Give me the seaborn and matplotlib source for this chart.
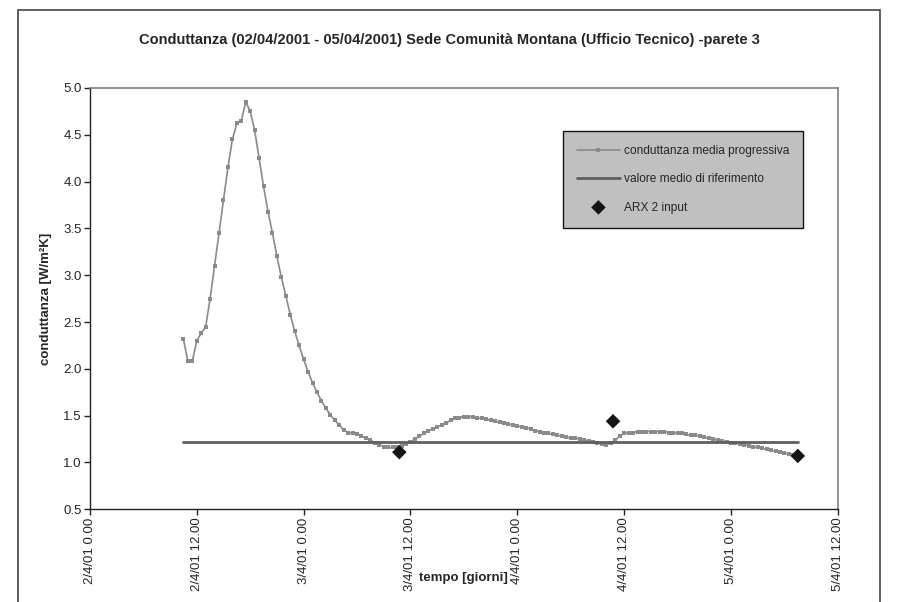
import numpy as np
import pandas as pd
import matplotlib
matplotlib.use("Agg")
import matplotlib.pyplot as plt
import matplotlib.dates as mdates
from matplotlib.ticker import FuncFormatter, MultipleLocator
from matplotlib.patches import Rectangle
import seaborn as sns

## data

start_time = "2001-04-02 10:30"
conduttanza = [2.32, 2.08, 2.08, 2.30, 2.38, 2.45, 2.75, 3.10, 3.45, 3.80,
               4.15, 4.45, 4.62, 4.65, 4.85, 4.75, 4.55, 4.25, 3.95, 3.68,
               3.45, 3.20, 2.98, 2.78, 2.58, 2.40, 2.25, 2.10, 1.97, 1.85,
               1.75, 1.66, 1.58, 1.51, 1.45, 1.40, 1.35, 1.32, 1.31, 1.30,
               1.28, 1.26, 1.24, 1.21, 1.19, 1.17, 1.16, 1.16, 1.17, 1.18,
               1.20, 1.22, 1.25, 1.28, 1.31, 1.34, 1.36, 1.38, 1.40, 1.42,
               1.45, 1.47, 1.48, 1.49, 1.49, 1.49, 1.48, 1.47, 1.46, 1.45,
               1.44, 1.43, 1.42, 1.41, 1.40, 1.39, 1.38, 1.37, 1.36, 1.34,
               1.33, 1.32, 1.31, 1.30, 1.29, 1.28, 1.27, 1.26, 1.26, 1.25,
               1.24, 1.23, 1.22, 1.21, 1.20, 1.19, 1.21, 1.24, 1.28, 1.31,
               1.32, 1.32, 1.33, 1.33, 1.33, 1.33, 1.33, 1.33, 1.33, 1.32,
               1.32, 1.31, 1.31, 1.30, 1.29, 1.29, 1.28, 1.27, 1.26, 1.25,
               1.24, 1.23, 1.22, 1.21, 1.21, 1.20, 1.19, 1.18, 1.17, 1.16,
               1.15, 1.14, 1.13, 1.12, 1.11, 1.10, 1.09, 1.08, 1.07]
valore_medio = 1.22
arx_times = ["2001-04-03 10:45", "2001-04-04 10:45", "2001-04-05 07:30"]
arx_values = [1.11, 1.44, 1.07]

xlim = ["2001-04-02 00:00", "2001-04-05 12:00"]

times = pd.date_range(start_time, periods=len(conduttanza), freq="30min")
df = pd.DataFrame({"tempo": times, "conduttanza": conduttanza})
ref = pd.DataFrame({"tempo": [times[0], times[-1]], "v": [valore_medio] * 2})
arx = pd.DataFrame({"tempo": pd.to_datetime(arx_times), "v": arx_values})

## plot

sns.set_style("white")
plt.rcParams["font.family"] = ["Liberation Sans", "DejaVu Sans"]

fig = plt.figure(figsize=(8.99, 6.02), dpi=100)
ax = fig.add_axes([0.100, 0.154, 0.832, 0.700])

sns.lineplot(data=df, x="tempo", y="conduttanza", ax=ax, color="#8a8a8a",
             linewidth=1.2, marker="s", markersize=2.5, markeredgewidth=0,
             label="conduttanza media progressiva")
sns.lineplot(data=ref, x="tempo", y="v", ax=ax, color="#5f5f5f",
             linewidth=2.0, label="valore medio di riferimento")
sns.scatterplot(data=arx, x="tempo", y="v", ax=ax, color="#151515",
                marker="D", s=55, edgecolor="none", label="ARX 2 input",
                zorder=5)

ax.set_xlim(pd.to_datetime(xlim[0]), pd.to_datetime(xlim[1]))
ax.set_ylim(0.5, 5.0)
ax.yaxis.set_major_locator(MultipleLocator(0.5))
ax.yaxis.set_major_formatter(FuncFormatter(lambda v, p: f"{v:.1f}"))
ax.xaxis.set_major_locator(mdates.HourLocator(byhour=[0, 12]))


def fmt_date(x, pos):
    d = mdates.num2date(x)
    return f"{d.day}/{d.month}/{d.strftime('%y')} {d.hour}.{d.minute:02d}"


ax.xaxis.set_major_formatter(FuncFormatter(fmt_date))
plt.setp(ax.get_xticklabels(), rotation=90, fontsize=9.5)
plt.setp(ax.get_yticklabels(), fontsize=9.5)
ax.tick_params(axis="both", direction="out", length=4, width=1,
               bottom=True, left=True, color="#222222", pad=2)

for s in ["left", "bottom"]:
    ax.spines[s].set_color("#222222")
    ax.spines[s].set_linewidth(1.0)
for s in ["top", "right"]:
    ax.spines[s].set_color("#808080")
    ax.spines[s].set_linewidth(1.2)

ax.set_xlabel("tempo [giorni]", fontsize=9.5, fontweight="bold")
ax.xaxis.set_label_coords(0.5, -0.162)
ax.xaxis.label.set_va("center")
ax.set_ylabel("conduttanza [W/m²K]", fontsize=9.5, fontweight="bold", labelpad=8)

fig.suptitle("Conduttanza (02/04/2001 - 05/04/2001) Sede Comunità Montana (Ufficio Tecnico) -parete 3",
             fontsize=10.5, fontweight="bold", y=0.945)

leg = ax.legend(loc="upper left", bbox_to_anchor=(0.624, 0.912), frameon=True,
                fancybox=False, fontsize=8.6, labelspacing=1.35, borderpad=1.2,
                handlelength=3.6, handletextpad=0.3)
leg.get_frame().set_facecolor("#c0c0c0")
leg.get_frame().set_edgecolor("#111111")
leg.get_frame().set_alpha(1.0)
leg.get_frame().set_linewidth(1.0)

fig.patches.append(Rectangle((0.02, -0.01), 0.959, 0.993, transform=fig.transFigure,
                             fill=False, edgecolor="#444444", linewidth=1.2))

fig.savefig("out.png", dpi=100)
